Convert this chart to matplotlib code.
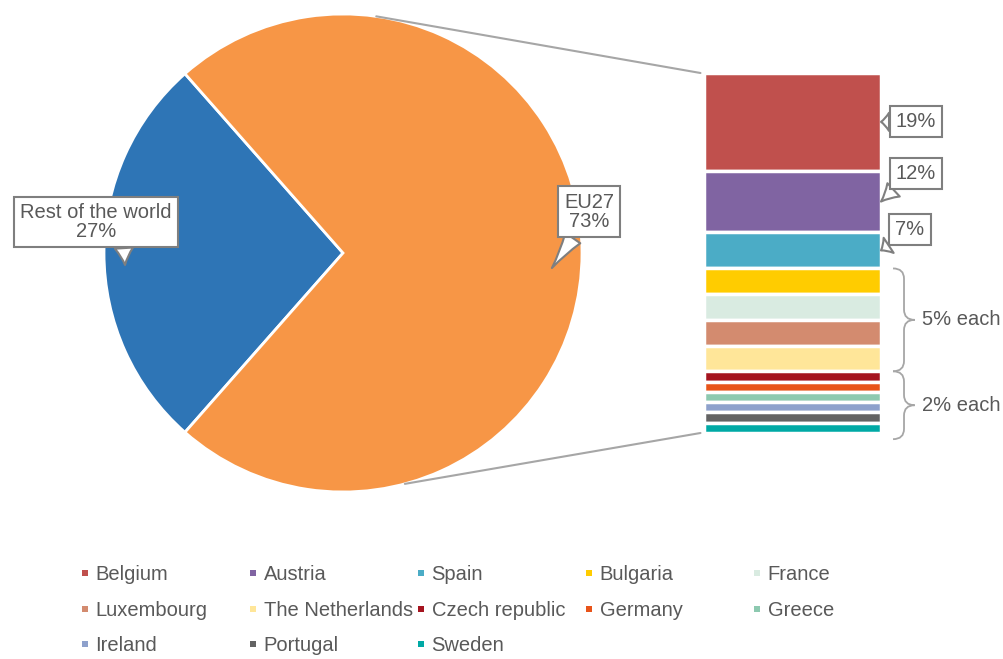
import numpy as np
import matplotlib
matplotlib.use('Agg')
import matplotlib.pyplot as plt
import matplotlib.transforms as mtransforms
from matplotlib.patches import ConnectionPatch, PathPatch
from matplotlib.path import Path
from matplotlib.lines import Line2D

# data
regions = ['Rest of the world', 'EU27']
region_share = [27, 73]
region_colors = ['#2E75B6', '#F79646']

countries = ['Belgium', 'Austria', 'Spain', 'Bulgaria', 'France', 'Luxembourg',
             'The Netherlands', 'Czech republic', 'Germany', 'Greece', 'Ireland',
             'Portugal', 'Sweden']
country_share = [19, 12, 7, 5, 5, 5, 5, 2, 2, 2, 2, 2, 2]
country_colors = ['#C0504D', '#8064A2', '#4BACC6', '#FFCC00', '#D9EBE1', '#D38B6F',
                  '#FFE699', '#A5141F', '#E8541A', '#8DC9B0', '#8EA1CC', '#636363',
                  '#00A9A5']

grey = '#595959'
line_grey = '#A6A6A6'
plt.rcParams['font.family'] = ['Liberation Sans', 'DejaVu Sans']
fs = 14.5

fig = plt.figure(figsize=(10.04, 6.59), dpi=100)

# pie
ax_pie = fig.add_axes([104 / 1004, 1 - 492 / 659, 478 / 1004, 478 / 659])
ax_pie.pie(region_share, colors=region_colors, startangle=131.4,
           wedgeprops=dict(edgecolor='white', linewidth=2))
ax_pie.set_xlim(-1, 1)
ax_pie.set_ylim(-1, 1)

def callout(ax, text, xy, xytext, relpos, tcoords='data'):
    ax.annotate(text, xy=xy, xytext=xytext, textcoords=tcoords,
                ha='center', va='center', fontsize=fs, color=grey,
                linespacing=1.05, annotation_clip=False,
                bbox=dict(boxstyle='square,pad=0.3', fc='white', ec='#7F7F7F', lw=1.5),
                arrowprops=dict(arrowstyle='wedge,tail_width=0.9,shrink_factor=0.4',
                                fc='white', ec='#7F7F7F', lw=1.5, relpos=relpos,
                                shrinkA=0, shrinkB=0))

callout(ax_pie, regions[0] + '\n' + f'{region_share[0]}%', (-0.912, -0.05),
        (-1.033, 0.13), (0.68, 0.05))
callout(ax_pie, regions[1] + '\n' + f'{region_share[1]}%', (0.874, -0.063),
        (1.029, 0.172), (0.3, 0.05))

# stacked bar
ax_bar = fig.add_axes([704 / 1004, 1 - 433 / 659, 177 / 1004, 360 / 659])
total = sum(country_share)
bottoms = total - np.cumsum(country_share)
ax_bar.bar([0] * len(country_share), country_share, bottom=bottoms, width=1,
           color=country_colors, edgecolor='white', linewidth=2.5)
ax_bar.set_xlim(-0.5, 0.5)
ax_bar.set_ylim(0, total)
ax_bar.axis('off')

offsets = [(35, 0), (35, 28), (29, 21)]
rels = [(0.05, 0.5), (0.15, 0.05), (0.15, 0.05)]
for i, off in enumerate(offsets):
    mid = bottoms[i] + country_share[i] / 2
    callout(ax_bar, f'{country_share[i]}%', (0.5, mid), off, rels[i],
            tcoords='offset pixels')

# connector lines
for ang, yb in [(82, total), (-75, 0)]:
    a = np.radians(ang)
    con = ConnectionPatch(xyA=(np.cos(a), np.sin(a)), coordsA=ax_pie.transData,
                          xyB=(-0.52, yb), coordsB=ax_bar.transData,
                          color=line_grey, lw=1.5)
    fig.add_artist(con)

# braces
trans = mtransforms.blended_transform_factory(ax_bar.transAxes, ax_bar.transData)

def brace(y0, y1, label):
    x0, xm, x1 = 1.068, 1.13, 1.19
    ym = (y0 + y1) / 2
    r = 2.0
    verts = [(x0, y1), (xm, y1), (xm, y1 - r), (xm, ym + r), (xm, ym), (x1, ym),
             (xm, ym), (xm, ym - r), (xm, y0 + r), (xm, y0), (x0, y0)]
    codes = [Path.MOVETO, Path.CURVE3, Path.CURVE3, Path.LINETO, Path.CURVE3,
             Path.CURVE3, Path.CURVE3, Path.CURVE3, Path.LINETO, Path.CURVE3,
             Path.CURVE3]
    ax_bar.add_patch(PathPatch(Path(verts, codes), fc='none', ec=line_grey,
                               lw=1.3, transform=trans, clip_on=False))
    ax_bar.text(1.23, ym, label, transform=trans, ha='left', va='center',
                fontsize=fs, color=grey)

brace(bottoms[6], bottoms[3] + country_share[3], '5% each')
brace(bottoms[12] - 1.2, bottoms[7] + country_share[7], '2% each')

# legend, row-major in 5 columns
ncol = 5
for c in range(ncol):
    idx = list(range(c, len(countries), ncol))
    handles = [Line2D([], [], ls='', marker='s', markersize=5,
                      color=country_colors[i], markeredgewidth=0) for i in idx]
    fig.legend(handles, [countries[i] for i in idx], loc='upper left',
               bbox_to_anchor=((79.5 + 168 * c) / 1004, 1 - 565 / 659),
               frameon=False, fontsize=fs, labelcolor=grey, borderpad=0,
               borderaxespad=0, handlelength=0.5, handletextpad=0.3,
               labelspacing=0.83)

fig.savefig('out.png', dpi=100)
